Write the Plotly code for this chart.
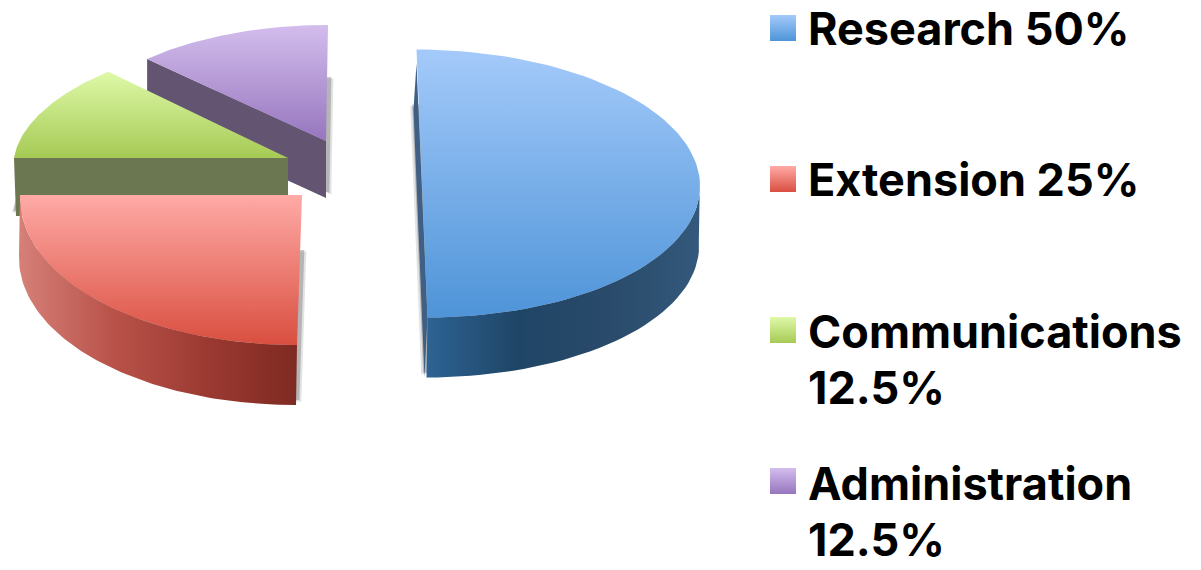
import numpy as np
import plotly.graph_objects as go

categories = ["Research", "Extension", "Communications", "Administration"]
shares = [50, 25, 12.5, 12.5]
label_lines = [["Research 50%"], ["Extension 25%"], ["Communications", "12.5%"], ["Administration", "12.5%"]]

W, H = 1201, 570
FONT = "Inter"
FS = 45

# style per slice: apex, semi axes, shear, depth, colours
style = {
    "Research": dict(c=(422, 183.5), a=278, b=134, s=5.5, d=(-1, 60), start=-90, shadow=-4,
                     top=["#a4cafa", "#4e94d8"], side=["#2d6393", "#1f4566", "#2a4a6a", "#33597c"]),
    "Extension": dict(c=(302, 195), a=282, b=150, s=-5, d=(-1, 60), start=90, shadow=4,
                      top=["#ffaaa6", "#d94f40"], side=["#d58078", "#b9534a", "#9c3a32", "#7e2a22"]),
    "Communications": dict(c=(288, 158), a=274, b=122, s=-20, d=(2, 58), start=180, shadow=-3,
                           top=["#def9a8", "#a6ca55"], side=["#6b7750", "#6b7750"]),
    "Administration": dict(c=(326, 141), a=255, b=116, s=-2, d=(0, 57), start=225, shadow=4,
                           top=["#d3bded", "#9676be"], side=["#635572", "#635572"]),
}
swatch_y = {"Research": 28, "Extension": 179, "Communications": 330, "Administration": 481}
text_y = {"Research": 28, "Extension": 179, "Communications": 331, "Administration": 483}
line_gap = 56


def scale(cols):
    n = len(cols)
    return [[i / (n - 1), c] for i, c in enumerate(cols)]


def arc(st, sweep, n=80):
    t = np.radians(np.linspace(st["start"], st["start"] + sweep, n))
    x = st["c"][0] + st["a"] * np.cos(t) + st["s"] * np.sin(t)
    y = st["c"][1] + st["b"] * np.sin(t)
    return x, y, t


def poly(fig, x, y, color=None, cols=None, kind="vertical"):
    kw = dict(x=list(x), y=list(y), mode="lines", fill="toself", line=dict(width=0),
              hoverinfo="skip", showlegend=False)
    if cols:
        # the y axis runs downwards, so a vertical gradient is listed from the bottom up
        c = cols[::-1] if kind == "vertical" else cols
        kw["fillgradient"] = dict(type=kind, colorscale=scale(c))
        kw["fillcolor"] = cols[0]
    else:
        kw["fillcolor"] = color
    fig.add_trace(go.Scatter(**kw))


fig = go.Figure()
total = sum(shares)
for name in ["Administration", "Communications", "Extension", "Research"]:
    st = style[name]
    sweep = shares[categories.index(name)] / total * 360
    x, y, t = arc(st, sweep)
    cx, cy = st["c"]
    dx, dy = st["d"]
    # soft shadow below the slice
    for grow, alpha in ((2.5, 0.14), (1, 0.28)):
        sx = np.concatenate([[cx], x, [cx]]) + dx + st["shadow"] * (0.5 + grow / 3)
        sy = np.concatenate([[cy], y, [cy]]) + dy + grow - 6
        poly(fig, sx, sy, color=f"rgba(60,60,60,{alpha})")
    # rim and cut faces
    if name == "Research":
        # the straight cut face shows as a thin dark strip along the left edge
        poly(fig, [x[0], x[-1], x[-1] - 3, x[0] - 3],
             [y[0] + 14, y[-1], y[-1] + dy, y[0] + dy], color="#3f5f85")
    if name in ("Research", "Extension"):
        vis = np.cos(t) <= 1e-9 if name == "Extension" else (np.sin(t) >= -0.02)
        xs, ys = x[vis], y[vis]
        poly(fig, np.concatenate([xs, (xs + dx)[::-1]]), np.concatenate([ys, (ys + dy)[::-1]]),
             cols=st["side"], kind="horizontal")
    elif name == "Communications":
        poly(fig, [x[0], cx, cx + dx - 2, x[0] + dx], [y[0], cy, cy + dy, y[0] + dy], color=st["side"][0])
    else:
        poly(fig, [x[0], cx, cx + dx, x[0] + dx], [y[0], cy, cy + dy, y[0] + dy], color=st["side"][0])
    # top face
    poly(fig, np.concatenate([[cx], x]), np.concatenate([[cy], y]), cols=st["top"], kind="vertical")

# legend
annotations = []
for name, lines in zip(categories, label_lines):
    ys = swatch_y[name]
    lx0, lx1 = 770, 796
    poly(fig, [lx0, lx1, lx1, lx0], [ys - 13, ys - 13, ys + 13, ys + 13], cols=style[name]["top"], kind="vertical")
    for i, text in enumerate(lines):
        annotations.append(dict(x=806, y=text_y[name] + i * line_gap, text=f"<b>{text}</b>", showarrow=False,
                                xanchor="left", yanchor="middle", xref="x", yref="y",
                                font=dict(family=FONT, size=FS, color="#000000")))

fig.update_layout(
    width=W, height=H, margin=dict(l=0, r=0, t=0, b=0),
    paper_bgcolor="white", plot_bgcolor="white", annotations=annotations, showlegend=False,
    xaxis=dict(range=[0, W], visible=False, fixedrange=True),
    yaxis=dict(range=[H, 0], visible=False, fixedrange=True),
)
fig.write_html("out.html", config={"displayModeBar": False},
               post_script="document.body.style.margin='0';")
